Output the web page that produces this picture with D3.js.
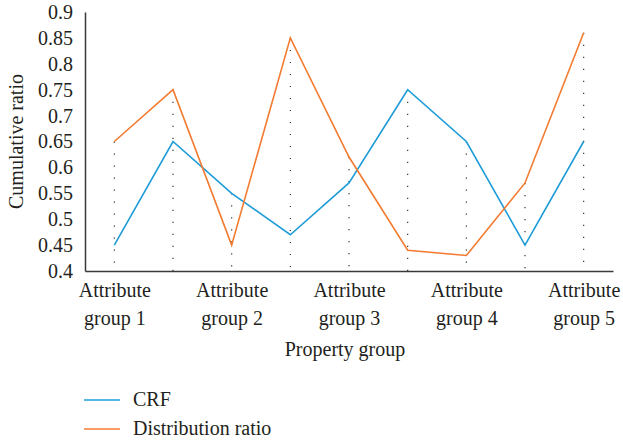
<!DOCTYPE html>
<html>
<head>
<meta charset="utf-8">
<script src="https://cdn.jsdelivr.net/npm/d3@7"></script>
<style>
  html, body { margin: 0; padding: 0; background: #fff; }
  svg { display: block; }
</style>
</head>
<body>
<svg id="chart" width="623" height="443"></svg>
<script>
// Nine observation points; category names are shown on every second point.
const points = [0, 1, 2, 3, 4, 5, 6, 7, 8];
const groupLabels = ["Attribute group 1", "Attribute group 2", "Attribute group 3", "Attribute group 4", "Attribute group 5"];
const labelledPoints = [0, 2, 4, 6, 8];
const crf = [0.45, 0.65, 0.55, 0.47, 0.57, 0.75, 0.65, 0.45, 0.65];
const distributionRatio = [0.65, 0.75, 0.45, 0.85, 0.62, 0.44, 0.43, 0.57, 0.86];
const yTicks = [0.4, 0.45, 0.5, 0.55, 0.6, 0.65, 0.7, 0.75, 0.8, 0.85, 0.9];
const seriesNames = ["CRF", "Distribution ratio"];
const seriesColors = ["#1f9cd8", "#f37b30"];

const FONT = "'Liberation Serif', 'DejaVu Serif', serif";
const svg = d3.select("#chart");
const plotLeft = 85, plotRight = 613, plotTop = 12, plotBottom = 271;

const x = d3.scalePoint().domain(points).range([plotLeft, plotRight]).padding(0.5);
const y = d3.scaleLinear().domain([0.4, 0.9]).range([plotBottom, plotTop]);

// Drop lines from the higher of the two series down to the category axis
const drops = points.map(i => Math.max(crf[i], distributionRatio[i]));
svg.append("g").selectAll("line").data(points).join("line")
  .attr("x1", i => x(i)).attr("x2", i => x(i))
  .attr("y1", i => y(drops[i])).attr("y2", y(0.4))
  .attr("stroke", "#333").attr("stroke-width", 1.2)
  .attr("stroke-dasharray", "1.2,10.8");

// Value axis
const yAxis = svg.append("g").attr("transform", `translate(${plotLeft},0)`)
  .call(d3.axisLeft(y).tickValues(yTicks).tickSize(0).tickPadding(12).tickFormat(d => String(+d.toFixed(2))));
yAxis.attr("font-family", null).attr("font-size", null);
yAxis.select(".domain").attr("stroke", "#3a3a3a").attr("stroke-width", 1.5);
yAxis.selectAll("text").style("font-family", FONT).style("font-size", "20px").attr("fill", "#231f20");

// Category axis
const xAxis = svg.append("g").attr("transform", `translate(0,${plotBottom})`)
  .call(d3.axisBottom(x).tickValues(labelledPoints).tickSize(0).tickFormat(() => ""));
xAxis.attr("font-family", null).attr("font-size", null);
xAxis.select(".domain").attr("stroke", "#3a3a3a").attr("stroke-width", 1.5);
xAxis.selectAll(".tick").each(function (d, k) {
  const words = groupLabels[k].split(" ");
  const t = d3.select(this).select("text").text(null)
    .attr("text-anchor", "middle").attr("y", 0).attr("dy", null)
    .attr("fill", "#231f20")
    .style("font-family", FONT)
    .style("font-size", "20px");
  t.append("tspan").attr("x", 0).attr("y", 26).text(words[0]);
  t.append("tspan").attr("x", 0).attr("y", 54).text(words.slice(1).join(" "));
});

// Series lines
const line = d3.line().x((d, i) => x(points[i])).y(d => y(d));
[crf, distributionRatio].forEach((vals, s) => {
  svg.append("path").datum(vals)
    .attr("d", line)
    .attr("fill", "none")
    .attr("stroke", seriesColors[s])
    .attr("stroke-width", 1.6)
    .attr("stroke-linejoin", "miter");
});

// Axis titles
svg.append("text")
  .attr("x", (plotLeft + plotRight) / 2 - 4).attr("y", 356)
  .attr("text-anchor", "middle")
  .style("font-family", FONT).style("font-size", "20px").attr("fill", "#231f20")
  .text("Property group");
svg.append("text")
  .attr("transform", `translate(23,${(plotTop + plotBottom) / 2}) rotate(-90)`)
  .attr("text-anchor", "middle")
  .style("font-family", FONT).style("font-size", "20px").attr("fill", "#231f20")
  .text("Cumulative ratio");

// Legend
const legend = svg.append("g").selectAll("g").data(seriesNames).join("g")
  .attr("transform", (d, i) => `translate(84,${400 + i * 29})`);
legend.append("line").attr("x1", 0).attr("x2", 36).attr("y1", 0).attr("y2", 0)
  .attr("stroke", (d, i) => seriesColors[i]).attr("stroke-width", 1.6);
legend.append("text").attr("x", 49).attr("y", 6)
  .style("font-family", FONT).style("font-size", "20px").attr("fill", "#231f20")
  .text(d => d);
</script>
</body>
</html>
